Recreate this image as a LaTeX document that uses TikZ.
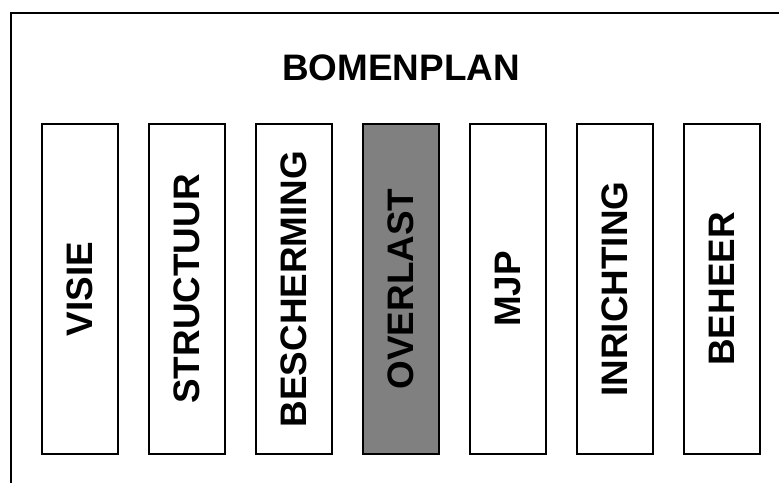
\documentclass[tikz,border=0pt]{standalone}
\usepackage{fontspec}
\setmainfont{Liberation Sans}
\definecolor{focusgrey}{RGB}{128,128,128}

\begin{document}
\begin{tikzpicture}[
    x=1bp,
    y=-1bp,
    plan frame/.style={
      draw,
      line width=1.6pt,
      minimum width=900bp,
      minimum height=600bp,
      anchor=north west,
      inner sep=0pt
    },
    part box/.style={
      draw,
      line width=1.4pt,
      rotate=90,
      minimum width=330bp,
      minimum height=76bp,
      inner sep=0pt,
      font=\fontsize{37}{40}\selectfont\bfseries
    },
    part focus/.style={
      part box,
      fill=focusgrey
    }
]
\useasboundingbox (0,0) rectangle (779,483);

% Outer frame, cut off at the right and bottom edge.
\node[plan frame] (plan) at (10,12) {};
\node[font=\fontsize{37}{40}\selectfont\bfseries] (title) at (401,67.5) {BOMENPLAN};

% The seven parts of the plan.
\foreach \x/\lab in {
  0/VISIE,
  1/STRUCTUUR,
  2/BESCHERMING,
  4/MJP,
  5/INRICHTING,
  6/BEHEER
}{
  \node[part box] (part\x) at (80+107*\x,289) {\lab};
}
\node[part focus] (part3) at (80+107*3,289) {OVERLAST};

\end{tikzpicture}
\end{document}
